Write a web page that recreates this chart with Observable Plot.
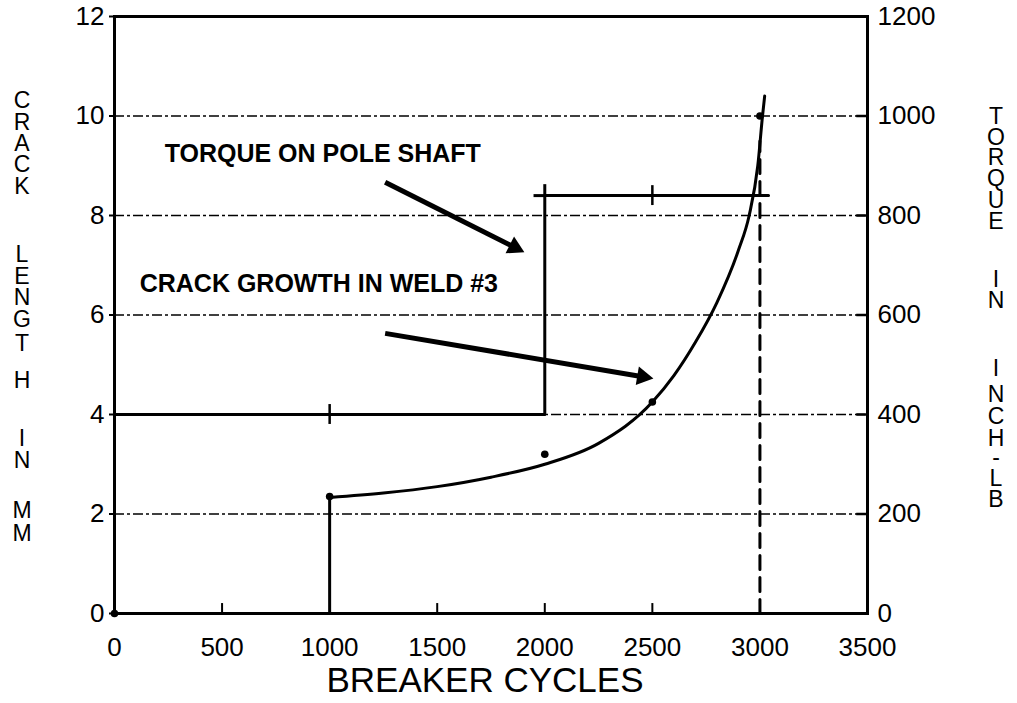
<!DOCTYPE html>
<html><head><meta charset="utf-8">
<script src="https://cdn.jsdelivr.net/npm/d3@7"></script>
<script src="https://cdn.jsdelivr.net/npm/@observablehq/plot@0.6"></script>
<style>
html,body{margin:0;padding:0;background:#fff;}
#chart{position:relative;width:1017px;height:703px;}
#chart svg g[aria-label$="tick label"] text{font-size:26px;}
</style></head><body><div id="chart"></div>
<script>
// ---- data ----
const crackPointCycles = [0, 1000, 2000, 2500, 3000];
const crackPointMM     = [0, 2.35, 3.2, 4.25, 10.0];
const crackCurveCycles = [1000, 1250, 1500, 1750, 2000, 2250, 2500, 2600, 2700, 2800, 2900, 2950, 2990, 3012, 3022];
const crackCurveMM     = [2.33, 2.42, 2.55, 2.74, 3.0, 3.42, 4.25, 4.78, 5.45, 6.25, 7.3, 8.0, 9.0, 10.0, 10.4];
const crackStartCycles = [1000, 1000];
const crackStartMM     = [0, 2.33];
const torqueCycles  = [0, 2000, 2000, 3040];
const torqueInchLb  = [400, 400, 840, 840];
const torqueMarkCycles = [1000, 2500];
const torqueMarkInchLb = [400, 840];
const failureCycles = [3000, 3000];
const failureMM     = [0, 9.5];
const xTicks = [0, 500, 1000, 1500, 2000, 2500, 3000, 3500];
const xInnerTicks = [500, 1500, 2000, 2500];
const yLeftTicks = [0, 2, 4, 6, 8, 10, 12];
const yRightTicks = [0, 200, 400, 600, 800, 1000, 1200];
const gridMM = [2, 4, 6, 8, 10];
const xTitle = "BREAKER CYCLES";
const leftTitle = "CRACK LENGTH IN MM";
const rightTitle = "TORQUE IN INCH-LB";
const noteTexts = ["TORQUE ON POLE SHAFT", "CRACK GROWTH IN WELD #3"];
const noteCycles = [233, 117];
const noteMM = [9.23, 6.63];
const arrowFromCycles = [1258, 1258];
const arrowFromMM = [8.67, 5.63];
const arrowToCycles = [1860, 2455];
const arrowToMM = [7.36, 4.76];

// torque is drawn on the same vertical scale: 1200 in-lb <-> 12 mm
const T = v => v / 100;

const curve = crackCurveCycles.map((x, i) => ({x, y: crackCurveMM[i]}));
const pts = crackPointCycles.map((x, i) => ({x, y: crackPointMM[i]}));
const torque = torqueCycles.map((x, i) => ({x, y: T(torqueInchLb[i])}));
const notes = noteTexts.map((t, i) => ({t, x: noteCycles[i], y: noteMM[i]}));
const arrows = arrowFromCycles.map((x1, i) => ({x1, y1: arrowFromMM[i], x2: arrowToCycles[i], y2: arrowToMM[i]}));

const font = "'Liberation Sans', Arial, Helvetica, sans-serif";
const W = 1017, H = 703, mL = 114, mR = 150, mT = 16, mB = 90;
const pxPerCycle = (W - mL - mR) / 3500, pxPerMM = (H - mT - mB) / 12;
const headAngle = d => 90 + Math.atan2((d.y1 - d.y2) * pxPerMM, (d.x2 - d.x1) * pxPerCycle) * 180 / Math.PI;

const plot = Plot.plot({
  width: W, height: H,
  marginLeft: mL, marginRight: mR, marginTop: mT, marginBottom: mB,
  x: {domain: [0, 3500]},
  y: {domain: [0, 12]},
  style: {fontFamily: font, fontSize: "26px", color: "#000", background: "#fff", overflow: "visible"},
  marks: [
    Plot.ruleY(gridMM, {stroke: "#000", strokeWidth: 1.3, strokeDasharray: "10,3,3,3"}),
    Plot.axisX({ticks: xTicks, tickSize: 0, tickPadding: 24, label: null, tickFormat: d => String(d)}),
    Plot.axisY({ticks: yLeftTicks, anchor: "left", tickSize: 5, tickPadding: 5, strokeWidth: 2, label: null, tickFormat: d => String(d)}),
    Plot.axisY({ticks: yLeftTicks, anchor: "right", tickSize: 0, tickPadding: 10, label: null,
                tickFormat: d => String(yRightTicks[yLeftTicks.indexOf(d)])}),
    // inner tick marks
    Plot.ruleX(xInnerTicks, {y1: 0, y2: 0.2, stroke: "#000", strokeWidth: 2}),
    Plot.ruleY(gridMM, {x1: 3450, x2: 3500, stroke: "#000", strokeWidth: 2.5}),
    // torque step
    Plot.line(torque, {x: "x", y: "y", stroke: "#000", strokeWidth: 3}),
    Plot.ruleX([2000], {y1: T(840), y2: T(862), stroke: "#000", strokeWidth: 3}),
    Plot.ruleY([T(840)], {x1: 1950, x2: 2000, stroke: "#000", strokeWidth: 3}),
    Plot.ruleX(torqueMarkCycles.map((x, i) => ({x, y: T(torqueMarkInchLb[i])})),
               {x: "x", y1: d => d.y - 0.2, y2: d => d.y + 0.2, stroke: "#000", strokeWidth: 2.5}),
    // crack growth
    Plot.line(crackStartCycles.map((x, i) => ({x, y: crackStartMM[i]})), {x: "x", y: "y", stroke: "#000", strokeWidth: 3}),
    Plot.line(curve, {x: "x", y: "y", curve: "monotone-x", stroke: "#000", strokeWidth: 3}),
    Plot.line(failureCycles.map((x, i) => ({x, y: failureMM[i]})), {x: "x", y: "y", stroke: "#000", strokeWidth: 3, strokeDasharray: "14,8"}),
    Plot.dot(pts, {x: "x", y: "y", r: 3.8, fill: "#000"}),
    // annotations
    Plot.text(notes, {x: "x", y: "y", text: "t", textAnchor: "start", fontWeight: "bold", fontSize: 25, fill: "#000"}),
    Plot.link(arrows, {x1: "x1", y1: "y1", x2: "x2", y2: "y2", stroke: "#000", strokeWidth: 5}),
    Plot.dot(arrows, {x: "x2", y: "y2", symbol: "triangle", r: 7, fill: "#000", stroke: "none", rotate: headAngle}),
    Plot.frame({stroke: "#000", strokeWidth: 3}),
    Plot.text([xTitle], {frameAnchor: "bottom", lineAnchor: "middle", dx: -6, dy: 67, fontSize: 35, fill: "#000"})
  ]
});

document.getElementById("chart").appendChild(plot);

// stacked vertical titles, one letter per line
const svg = d3.select(plot);
const leftY  = [100, 122, 143, 164, 186, null, 254, 276, 297, 319, 343, 380, null, 438, 460, null, 510, 533];
const rightY = [116, 137, 157, 178, 200, 221, null, 279, 300, null, 368, 394, 416, 438, 457, 478, 499];
function stack(str, ys, cx) {
  str.split("").forEach((ch, i) => {
    if (ch === " " || ys[i] == null) return;
    svg.append("text")
      .attr("x", cx).attr("y", ys[i] + 8.3)
      .attr("text-anchor", "middle")
      .attr("font-family", font).attr("font-size", 23)
      .attr("fill", "#000")
      .text(ch);
  });
}
stack(leftTitle, leftY, 22);
stack(rightTitle, rightY, 996);
</script>
</body></html>
